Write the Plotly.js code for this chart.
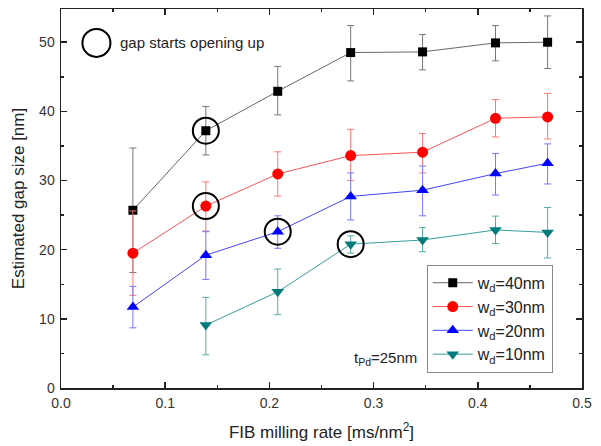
<!DOCTYPE html>
<html>
<head>
<meta charset="utf-8">
<script src="https://cdn.plot.ly/plotly-3.0.1.min.js"></script>
<style>html,body{margin:0;padding:0;background:#fff;}#chart{width:601px;height:446px;}</style>
</head>
<body>
<div id="chart"></div>
<script>
// ---- data ----
const millingRate = [0.069, 0.139, 0.208, 0.278, 0.347, 0.417, 0.467];
const millingRate10 = [0.139, 0.208, 0.278, 0.347, 0.417, 0.467];

const gap40 = [25.7, 37.2, 42.9, 48.5, 48.6, 49.9, 50.0];
const gap40ErrPlus = [9.0, 3.5, 3.6, 3.9, 2.5, 2.5, 3.8];
const gap40ErrMinus = [9.0, 3.5, 3.4, 4.1, 2.6, 2.6, 3.8];

const gap30 = [19.5, 26.3, 30.95, 33.6, 34.1, 39.0, 39.2];
const gap30ErrPlus = [6.1, 3.5, 3.2, 3.8, 2.7, 2.7, 3.4];
const gap30ErrMinus = [6.1, 3.6, 3.2, 3.6, 3.0, 2.7, 3.2];

const gap20 = [11.7, 19.2, 22.6, 27.7, 28.6, 31.0, 32.5];
const gap20ErrPlus = [3.0, 3.4, 2.3, 3.4, 3.5, 2.9, 2.8];
const gap20ErrMinus = [3.0, 3.5, 2.4, 3.4, 3.7, 3.1, 3.0];

const gap10 = [9.1, 13.9, 20.8, 21.4, 22.85, 22.5];
const gap10ErrPlus = [4.0, 3.3, 1.2, 1.8, 2.0, 3.6];
const gap10ErrMinus = [4.3, 3.3, 1.3, 1.7, 1.95, 3.7];

const seriesNames = ['w<sub>d</sub>=40nm', 'w<sub>d</sub>=30nm', 'w<sub>d</sub>=20nm', 'w<sub>d</sub>=10nm'];

// gap opening markers
const openX = [0.139, 0.139, 0.208, 0.278];
const openY = [37.2, 26.3, 22.6, 20.8];
const keyX = [0.034];
const keyY = [49.9];

const xTicks = [0.0, 0.1, 0.2, 0.3, 0.4, 0.5];
const xTickText = ['0.0', '0.1', '0.2', '0.3', '0.4', '0.5'];
const yTicks = [0, 10, 20, 30, 40, 50];
const xRange = [0, 0.5];
const yRange = [0, 54.8];

function series(x, y, ep, em, name, mcolor, lcolor, ecolor, symbol, size) {
  return {
    x: x, y: y, name: name, type: 'scatter', mode: 'lines+markers',
    line: {color: lcolor, width: 1},
    marker: {color: mcolor, symbol: symbol, size: size, line: {width: 0}},
    error_y: {type: 'data', symmetric: false, array: ep, arrayminus: em,
              color: ecolor, thickness: 1, width: 3.5}
  };
}

const traces = [
  series(millingRate, gap40, gap40ErrPlus, gap40ErrMinus, seriesNames[0], '#000000', '#666666', '#777777', 'square', 9),
  series(millingRate, gap30, gap30ErrPlus, gap30ErrMinus, seriesNames[1], '#ff0000', '#ff5555', '#ff7777', 'circle', 11),
  series(millingRate, gap20, gap20ErrPlus, gap20ErrMinus, seriesNames[2], '#0000ff', '#4444ff', '#7777ff', 'triangle-up', 11),
  series(millingRate10, gap10, gap10ErrPlus, gap10ErrMinus, seriesNames[3], '#007b7b', '#3a9e9e', '#55aaaa', 'triangle-down', 11),
  {x: openX, y: openY, type: 'scatter', mode: 'markers', showlegend: false, hoverinfo: 'skip',
   marker: {symbol: 'circle-open', size: 26, color: '#000', line: {width: 2, color: '#000'}}},
  {x: keyX, y: keyY, type: 'scatter', mode: 'markers', showlegend: false, hoverinfo: 'skip',
   marker: {symbol: 'circle-open', size: 28, color: '#000', line: {width: 2, color: '#000'}}},
  // invisible helper so the mirrored (top/right) axes with minor ticks are drawn
  {x: [0.25], y: [20], xaxis: 'x2', yaxis: 'y2', type: 'scatter', mode: 'markers',
   showlegend: false, hoverinfo: 'skip', marker: {opacity: 0, size: 1}}
];

const axisFont = {family: 'Arial, "Liberation Sans", sans-serif', size: 14, color: '#333'};
const tickStyle = {ticks: 'inside', ticklen: 6, tickwidth: 1.5, tickcolor: '#222',
                   showgrid: false, zeroline: false};
const layout = {
  width: 601, height: 446,
  margin: {l: 61, r: 19, t: 9, b: 58},
  paper_bgcolor: '#fff', plot_bgcolor: '#fff',
  font: {family: 'Arial, "Liberation Sans", sans-serif', color: '#222'},
  showlegend: true,
  legend: {x: 0.702, y: 0.325, xanchor: 'left', yanchor: 'top',
           bordercolor: '#888', borderwidth: 1, bgcolor: '#fff',
           font: {size: 16, color: '#222'}, tracegroupgap: 0, itemwidth: 40},
  xaxis: Object.assign({range: xRange, tickvals: xTicks, ticktext: xTickText,
          showline: true, linecolor: '#222', linewidth: 1.5, mirror: true,
          tickfont: axisFont, ticklabelstandoff: 2,
          minor: {dtick: 0.05, tick0: 0, ticks: 'inside', ticklen: 3, tickwidth: 1.5, tickcolor: '#222', showgrid: false},
          title: {text: 'FIB milling rate [ms/nm<sup>2</sup>]', font: {size: 17, color: '#222'}, standoff: 16}}, tickStyle),
  yaxis: Object.assign({range: yRange, tickvals: yTicks,
          showline: true, linecolor: '#222', linewidth: 1.5, mirror: true,
          tickfont: axisFont, ticklabelstandoff: 2,
          minor: {dtick: 5, tick0: 0, ticks: 'inside', ticklen: 3, tickwidth: 1.5, tickcolor: '#222', showgrid: false},
          title: {text: 'Estimated gap size [nm]', font: {size: 17, color: '#222'}, standoff: 10}}, tickStyle),
  xaxis2: Object.assign({range: xRange, tickvals: xTicks, overlaying: 'x', side: 'top', anchor: 'y',
          showticklabels: false, showline: false,
          minor: {dtick: 0.05, tick0: 0, ticks: 'inside', ticklen: 3, tickwidth: 1.5, tickcolor: '#222', showgrid: false}}, tickStyle),
  yaxis2: Object.assign({range: yRange, tickvals: yTicks, overlaying: 'y', side: 'right', anchor: 'x',
          showticklabels: false, showline: false,
          minor: {dtick: 5, tick0: 0, ticks: 'inside', ticklen: 3, tickwidth: 1.5, tickcolor: '#222', showgrid: false}}, tickStyle),
  annotations: [
    {x: 0.0547, y: 49.9, xref: 'x', yref: 'y', xanchor: 'left', yanchor: 'middle',
     text: 'gap starts opening up', showarrow: false, font: {size: 15, color: '#222'}},
    {x: 0.279, y: 4.3, xref: 'x', yref: 'y', xanchor: 'left', yanchor: 'middle',
     text: 't<sub>Pd</sub>=25nm', showarrow: false, font: {size: 15, color: '#222'}}
  ]
};

Plotly.newPlot('chart', traces, layout, {displayModeBar: false, staticPlot: true});
</script>
</body>
</html>
